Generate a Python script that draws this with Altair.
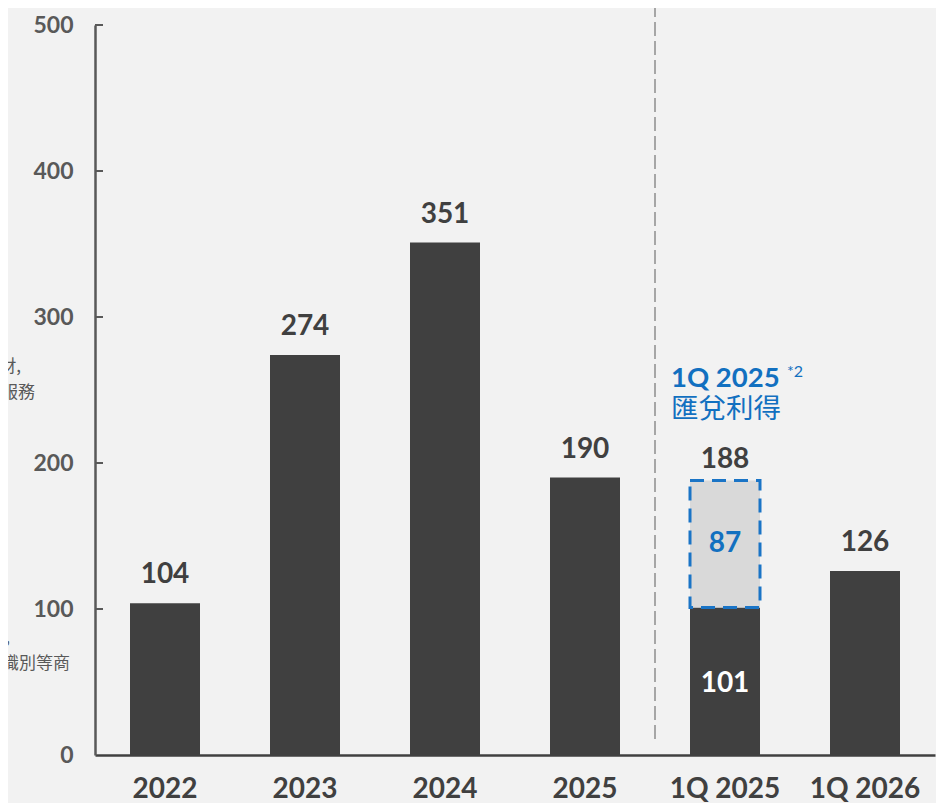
import altair as alt
import pandas as pd

# ---- data ----
categories = ["2022", "2023", "2024", "2025", "1Q 2025", "1Q 2026"]
bar_values = [104, 274, 351, 190, 101, 126]
total_labels = [104, 274, 351, 190, 188, 126]
fx_category = "1Q 2025"
fx_base = 101
fx_gain = 87
y_ticks = [0, 100, 200, 300, 400, 500]

side_notes = ["財,", "服務", "務,", "識別等商"]

DARK = "#404040"
GRAY = "#595959"
BLUE = "#1270C0"
BOX_BLUE = "#1A74C6"
FONT = "Lato"

df = pd.DataFrame({"cat": categories, "value": bar_values, "total": total_labels})
fx_df = pd.DataFrame({"cat": [fx_category], "base": [fx_base], "top": [fx_base + fx_gain],
                      "gain": [fx_gain], "mid": [fx_base + fx_gain / 2]})
tick_df = pd.DataFrame({"t": y_ticks[1:]})

x_enc = alt.X("cat:N", sort=categories,
              scale=alt.Scale(paddingInner=0.5, paddingOuter=0.25),
              axis=alt.Axis(title=None, labelAngle=0, ticks=False, labelFont=FONT,
                            labelFontSize=28, labelFontWeight="bold", labelColor=DARK,
                            labelPadding=20, domainColor=DARK, domainWidth=2.5))
y_scale = alt.Scale(domain=[0, 500], nice=False)
y_axis = alt.Axis(title=None, values=y_ticks, ticks=False, grid=False, labelFont=FONT,
                  labelFontSize=23, labelFontWeight="bold", labelColor=GRAY,
                  labelPadding=22, domainColor=GRAY, domainWidth=2.5)

base = alt.Chart(df)

bars = base.mark_bar(color=DARK).encode(
    x=x_enc,
    y=alt.Y("value:Q", scale=y_scale, axis=y_axis),
)

labels = base.transform_filter(alt.datum.cat != fx_category).mark_text(
    font=FONT, fontSize=28, fontWeight="bold", color=DARK, baseline="alphabetic", dy=-20
).encode(x=alt.X("cat:N", sort=categories), y="total:Q", text="total:Q")

fx_box = alt.Chart(fx_df).mark_bar(
    color="#D9D9D9", stroke=BOX_BLUE, strokeWidth=3, strokeDash=[14, 8]
).encode(x=alt.X("cat:N", sort=categories), y="base:Q", y2="top:Q")

fx_total = alt.Chart(fx_df).mark_text(
    font=FONT, fontSize=28, fontWeight="bold", color=DARK, baseline="alphabetic", dy=-13
).encode(x=alt.X("cat:N", sort=categories), y="top:Q", text=alt.Text("top:Q", format="d"))

fx_gain_txt = alt.Chart(fx_df).mark_text(
    font=FONT, fontSize=28, fontWeight="bold", color=BLUE, baseline="middle"
).encode(x=alt.X("cat:N", sort=categories), y="mid:Q", text="gain:Q")

fx_base_txt = alt.Chart(fx_df).transform_calculate(half="datum.base / 2").mark_text(
    font=FONT, fontSize=28, fontWeight="bold", color="white", baseline="middle", dy=3
).encode(x=alt.X("cat:N", sort=categories), y="half:Q", text="base:Q")

divider = alt.Chart(fx_df).mark_rule(
    color="#A6A6A6", strokeWidth=2, strokeDash=[14, 5], xOffset=-35
).encode(x=alt.X("cat:N", sort=categories, bandPosition=0),
         y=alt.value(-22), y2=alt.value(719))

ann_title = alt.Chart(fx_df).mark_text(
    font=FONT, fontSize=27.5, fontWeight="bold", color=BLUE, align="left",
    baseline="alphabetic", dx=-19
).encode(x=alt.X("cat:N", sort=categories, bandPosition=0), y=alt.value(362),
         text=alt.value("1Q 2025"))

ann_sup = alt.Chart(fx_df).mark_text(
    font=FONT, fontSize=16, color=BLUE, align="left", baseline="alphabetic", dx=97
).encode(x=alt.X("cat:N", sort=categories, bandPosition=0), y=alt.value(352),
         text=alt.value("*2"))

ann_sub = alt.Chart(fx_df).mark_text(
    font="Noto Sans CJK TC", fontSize=27.5, color=BLUE, align="left",
    baseline="middle", dx=-19
).encode(x=alt.X("cat:N", sort=categories, bandPosition=0), y=alt.value(385),
         text=alt.value("匯兌利得"))

ticks = alt.Chart(tick_df).mark_rule(color=GRAY, strokeWidth=2).encode(
    y="t:Q", x=alt.value(0), x2=alt.value(8))

note_df = pd.DataFrame({"txt": side_notes, "px": [-74, -60, -85, -25],
                        "py": [342, 368, 613, 639]})
notes = alt.Chart(note_df).mark_text(
    font="Noto Sans CJK TC", fontSize=17, color=GRAY, align="right", baseline="middle"
).encode(x=alt.X("px:Q", scale=None), y=alt.Y("py:Q", scale=None), text="txt:N")

chart = alt.layer(
    bars, fx_box, labels, fx_total, fx_gain_txt, fx_base_txt, divider,
    ann_title, ann_sup, ann_sub, ticks, notes
).properties(
    width=840, height=730,
    autosize=alt.AutoSizeParams(type="none"),
    padding={"left": 87, "top": 17, "right": 1, "bottom": 48},
    background="#F2F2F2",
).configure_view(stroke=None)

chart.save("out.html", embed_options={"renderer": "svg", "actions": False})
